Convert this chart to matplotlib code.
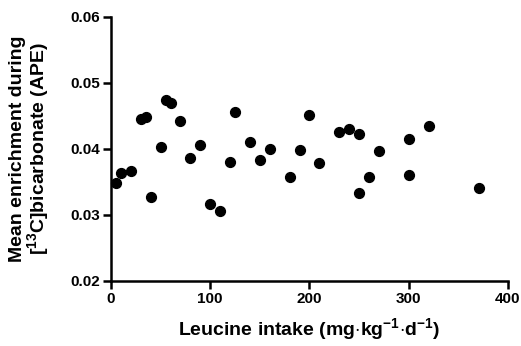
import matplotlib
matplotlib.use("Agg")
import matplotlib.pyplot as plt

plt.rcParams['font.family'] = ['Liberation Sans', 'DejaVu Sans']
plt.rcParams['font.weight'] = 'bold'
plt.rcParams['mathtext.fontset'] = 'custom'
plt.rcParams['mathtext.rm'] = 'Liberation Sans:bold'
plt.rcParams['mathtext.bf'] = 'Liberation Sans:bold'
plt.rcParams['mathtext.default'] = 'rm'

# leucine intake (mg/kg/d) vs mean enrichment (APE)
leucine = [5, 10, 20, 30, 35, 40, 50, 55, 60, 70, 80, 90, 100, 110, 120,
           125, 140, 150, 160, 180, 190, 200, 210, 230, 240, 250, 250,
           260, 270, 300, 300, 320, 371]
enrichment = [0.0349, 0.0364, 0.0367, 0.0445, 0.0448, 0.0327, 0.0403, 0.0474,
              0.0469, 0.0443, 0.0386, 0.0406, 0.0317, 0.0306, 0.0380,
              0.0456, 0.0410, 0.0383, 0.0400, 0.0358, 0.0398, 0.0451, 0.0378,
              0.0426, 0.0430, 0.0423, 0.0334, 0.0357, 0.0397, 0.0415, 0.0360,
              0.0435, 0.0341]

fig = plt.figure(figsize=(5.21, 3.46), dpi=100)
ax = fig.add_axes([0.213, 0.188, 0.762, 0.763])

ax.scatter(leucine, enrichment, s=50, color='black', zorder=3, clip_on=False)

ax.set_xlim(0, 400)
ax.set_ylim(0.02, 0.06)
ax.set_xticks([0, 100, 200, 300, 400])
ax.set_yticks([0.02, 0.03, 0.04, 0.05, 0.06])
ax.set_yticklabels(['0.02', '0.03', '0.04', '0.05', '0.06'])

for s in ['top', 'right']:
    ax.spines[s].set_visible(False)
for s in ['left', 'bottom']:
    ax.spines[s].set_linewidth(1.8)
ax.tick_params(direction='out', length=6, width=1.8, labelsize=11, pad=2)

ax.set_xlabel(r'Leucine intake (mg$\cdot$kg$^{-1}$$\cdot$d$^{-1}$)',
              fontsize=14, fontweight='bold', labelpad=7)
ax.set_ylabel('Mean enrichment during\n[$^{13}$C]bicarbonate (APE)',
              fontsize=14, fontweight='bold', labelpad=14, linespacing=0.95)

fig.savefig('out.png', dpi=100)
